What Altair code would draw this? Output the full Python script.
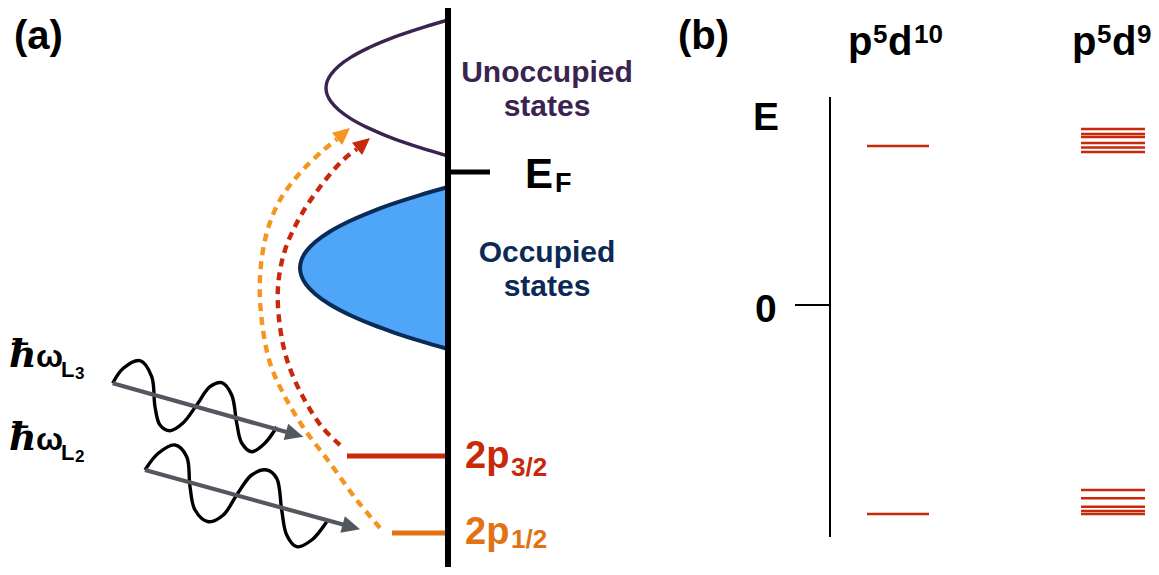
import math
import altair as alt
import pandas as pd

# ---------------- data (pixel-like units) ----------------
# unoccupied density of states outline (x, y), top to bottom
unocc_x = [448, 424.8, 404.1, 385.8, 367, 350.7, 338.5, 330.9, 327.2, 326,
           327.2, 330.9, 338.5, 350.7, 367, 385.8, 404.1, 424.8, 448]
unocc_y = [20, 26.8, 33.6, 40.4, 48.6, 57.4, 66.2, 74.4, 81.2, 88,
           94.8, 101.6, 109.8, 118.6, 127.4, 135.6, 142.4, 149.2, 156]

# occupied density of states: x positions with upper / lower edge
occ_x = [300, 301.5, 305.9, 315.2, 330.0, 349.8, 372.5, 394.7, 419.9, 448]
occ_top = [268, 259.9, 251.8, 242.1, 231.5, 221, 211.3, 203.2, 195.1, 187]
occ_bot = [268, 276.1, 284.2, 293.9, 304.5, 315, 324.7, 332.8, 340.9, 349]

# dashed excitation paths
orange_x = [380, 356.7, 330, 303, 283, 270, 261.7, 260, 266.7, 280, 300, 321.7, 337]
orange_y = [528, 500, 463, 427, 393, 363, 320, 277, 233, 200, 173, 151.7, 139]
orange_tip = (350, 128)
red_x = [340, 322, 303, 288, 280, 278, 285, 300, 320, 343, 357]
red_y = [445, 427, 397, 363, 327, 287, 250, 217, 187, 160, 149]
red_tip = (370, 138)

# photon waves
wave3_x = [112.7, 123.3, 140, 151.7, 155, 160, 170, 183, 196.7, 210, 221.7, 231.7, 236.7, 241.7, 251.7, 265, 276.7]
wave3_y = [383.3, 368.3, 360.7, 376.7, 406.7, 425, 430.7, 423, 405, 386.7, 382.7, 395, 423, 443, 451.7, 443, 427]
wave2_x = [145, 158.3, 175, 186.7, 190, 195, 208.3, 223.3, 236.7, 251.7, 266.7, 276.7, 281.7, 286.7, 296.7, 311.7, 326.7]
wave2_y = [470, 453.3, 445, 456.7, 486.7, 510, 521.7, 515, 495, 475, 470, 478.3, 510, 535, 546.7, 540, 521.7]

# photon arrows: start, shaft end, tip
arrow3 = [(112.7, 383.3), (291.8, 433.5), (303.3, 436.7)]
arrow2 = [(145, 470), (348.4, 526.1), (360, 529.3)]

# core levels (panel a): x start, x end, y
level_p32 = (347, 448, 456)
level_p12 = (392, 448, 533)

# panel b energy levels
d10_levels = [146, 514]
d9_upper = [129, 134, 137, 143, 147.5, 152]
d9_lower = [490, 498.3, 506.8, 511, 514]

# ---------------- scales ----------------
W, H = 1143, 559
XS = alt.Scale(domain=[8, 1151], range=[0, W], nice=False, zero=False)
YS = alt.Scale(domain=[8, 567], range=[0, H], nice=False, zero=False)

PURPLE = "#3b2350"
NAVY = "#0b2a55"
BLUE = "#4fa5f8"
RED = "#c8290a"
ORANGE_D = "#f5951f"
ORANGE_T = "#e27214"
GRAY = "#53585f"
SANS = "Liberation Sans"


def curve(xs, ys, color, width, dash=None, interp="catmull-rom"):
    df = pd.DataFrame({"x": xs, "y": ys, "i": list(range(len(xs)))})
    kw = dict(color=color, strokeWidth=width, interpolate=interp, strokeCap="butt", strokeJoin="round")
    if dash is not None:
        kw["strokeDash"] = dash
    return alt.Chart(df).mark_line(**kw).encode(
        x=alt.X("x:Q", scale=XS, axis=None),
        y=alt.Y("y:Q", scale=YS, axis=None),
        order="i:Q",
    )


def rules(x1s, x2s, y1s, y2s, color, width):
    df = pd.DataFrame({"x": x1s, "x2": x2s, "y": y1s, "y2": y2s})
    return alt.Chart(df).mark_rule(color=color, strokeWidth=width, strokeCap="butt").encode(
        x=alt.X("x:Q", scale=XS, axis=None),
        x2="x2:Q",
        y=alt.Y("y:Q", scale=YS, axis=None),
        y2="y2:Q",
    )


def head(tip, prev, color, size):
    ang = math.degrees(math.atan2(tip[0] - prev[0], -(tip[1] - prev[1]))) % 360
    df = pd.DataFrame({"x": [tip[0]], "y": [tip[1]]})
    return alt.Chart(df).mark_point(
        shape="M0,0L-0.47,1L0.47,1Z", filled=True, color=color, opacity=1,
        size=size, angle=ang, strokeWidth=0,
    ).encode(
        x=alt.X("x:Q", scale=XS, axis=None),
        y=alt.Y("y:Q", scale=YS, axis=None),
    )


def label(text, x, y, size, color="black", font=SANS, weight="bold", style="normal", align="left"):
    df = pd.DataFrame({"x": [x], "y": [y], "t": [text]})
    return alt.Chart(df).mark_text(
        align=align, baseline="alphabetic", fontSize=size, font=font,
        fontWeight=weight, fontStyle=style, color=color,
    ).encode(
        x=alt.X("x:Q", scale=XS, axis=None),
        y=alt.Y("y:Q", scale=YS, axis=None),
        text="t:N",
    )


layers = []

# occupied states (filled band between upper and lower edge)
occ_df = pd.DataFrame({"x": occ_x, "y": occ_top, "y2": occ_bot})
layers.append(alt.Chart(occ_df).mark_area(color=BLUE, interpolate="monotone", opacity=1).encode(
    x=alt.X("x:Q", scale=XS, axis=None),
    y=alt.Y("y:Q", scale=YS, axis=None),
    y2="y2:Q",
))
occ_line_x = occ_x[::-1] + occ_x[1:]
occ_line_y = occ_top[::-1] + occ_bot[1:]
layers.append(curve(occ_line_x, occ_line_y, NAVY, 4))
layers.append(curve(unocc_x, unocc_y, PURPLE, 3.4))

# photon waves and arrows
layers.append(curve(wave3_x, wave3_y, "black", 3.4))
layers.append(curve(wave2_x, wave2_y, "black", 3.4))
for arr in (arrow3, arrow2):
    layers.append(curve([arr[0][0], arr[1][0]], [arr[0][1], arr[1][1]], GRAY, 4.2, interp="linear"))
    layers.append(head(arr[2], arr[0], GRAY, 1300))

# dashed excitation paths
layers.append(curve(orange_x, orange_y, ORANGE_D, 4.4, dash=[8, 6]))
layers.append(head(orange_tip, (orange_x[-1], orange_y[-1]), ORANGE_D, 1150))
layers.append(curve(red_x, red_y, RED, 4.4, dash=[8, 6]))
layers.append(head(red_tip, (red_x[-1], red_y[-1]), RED, 1150))

# core levels
layers.append(rules([level_p32[0]], [level_p32[1]], [level_p32[2]], [level_p32[2]], RED, 5))
layers.append(rules([level_p12[0]], [level_p12[1]], [level_p12[2]], [level_p12[2]], ORANGE_T, 5))

# energy axis (a) and Fermi tick
layers.append(rules([448], [448], [0], [575], "black", 6))
layers.append(rules([448], [490], [172], [172], "black", 5))

# panel b
layers.append(rules([830], [830], [97], [537], "black", 2))
layers.append(rules([795], [830], [305], [305], "black", 2))
layers.append(rules([867] * 2, [929] * 2, d10_levels, d10_levels, RED, 2.6))
layers.append(rules([1081] * len(d9_upper), [1145] * len(d9_upper), d9_upper, d9_upper, RED, 2.6))
layers.append(rules([1081] * len(d9_lower), [1145] * len(d9_lower), d9_lower, d9_lower, RED, 2.6))

# texts
layers += [
    label("(a)", 14, 49, 40),
    label("(b)", 678, 49, 40),
    label("Unoccupied", 547, 82, 30, PURPLE, align="center"),
    label("states", 547, 116, 30, PURPLE, align="center"),
    label("Occupied", 547, 262, 30, NAVY, align="center"),
    label("states", 547, 296, 30, NAVY, align="center"),
    label("E", 525, 188, 42),
    label("F", 555, 192, 27),
    label("2p", 465, 468, 38, RED),
    label("3/2", 511, 476, 26, RED),
    label("2p", 465, 544, 38, ORANGE_T),
    label("1/2", 511, 548, 26, ORANGE_T),
    label("ħ", 9, 367, 38, font="DejaVu Serif", weight="bold", style="italic"),
    label("ω", 36, 367, 32),
    label("L", 61, 377, 22),
    label("3", 75, 379, 17),
    label("ħ", 9, 450, 38, font="DejaVu Serif", weight="bold", style="italic"),
    label("ω", 36, 450, 32),
    label("L", 61, 460, 22),
    label("2", 75, 462, 17),
    label("E", 753, 130, 39),
    label("0", 755, 322, 39),
    label("p", 848, 55, 40),
    label("5", 873, 43, 26),
    label("d", 888, 55, 40),
    label("10", 914, 43, 26),
    label("p", 1072, 55, 40),
    label("5", 1097, 43, 26),
    label("d", 1112, 55, 40),
    label("9", 1137, 43, 26),
]

chart = alt.layer(*layers).properties(
    width=W, height=H,
    autosize=alt.AutoSizeParams(type="none"),
    padding=0,
).configure_view(stroke=None)

chart.save("out.html", embed_options={"renderer": "svg", "actions": False})
